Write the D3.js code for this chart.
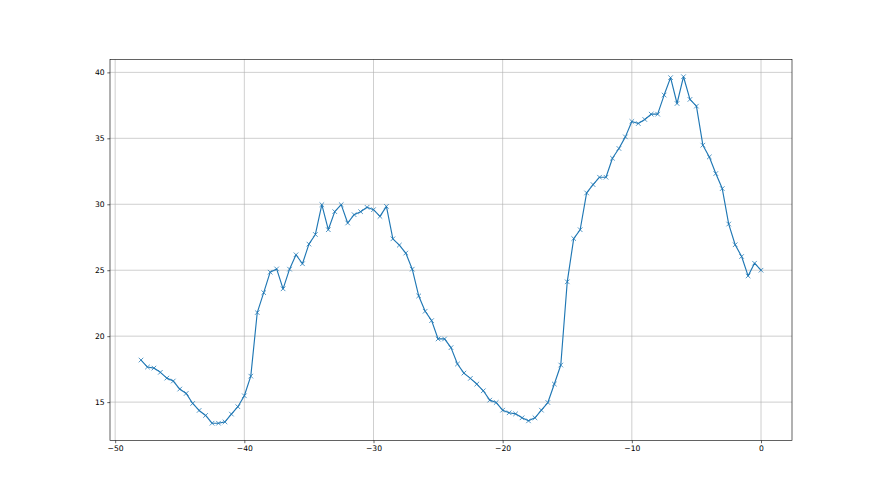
<!DOCTYPE html>
<html><head><meta charset="utf-8">
<script src="https://cdn.jsdelivr.net/npm/d3@7"></script>
<style>body{margin:0;background:#fff}svg{display:block}</style>
</head><body>
<svg id="c" width="880" height="495"></svg>
<script>
const xValues = [-48,-47.5,-47,-46.5,-46,-45.5,-45,-44.5,-44,-43.5,-43,-42.5,-42,-41.5,-41,-40.5,-40,-39.5,-39,-38.5,
  -38,-37.5,-37,-36.5,-36,-35.5,-35,-34.5,-34,-33.5,-33,-32.5,-32,-31.5,-31,-30.5,-30,-29.5,-29,-28.5,
  -28,-27.5,-27,-26.5,-26,-25.5,-25,-24.5,-24,-23.5,-23,-22.5,-22,-21.5,-21,-20.5,-20,-19.5,-19,-18.5,
  -18,-17.5,-17,-16.5,-16,-15.5,-15,-14.5,-14,-13.5,-13,-12.5,-12,-11.5,-11,-10.5,-10,-9.5,-9,-8.5,
  -8,-7.5,-7,-6.5,-6,-5.5,-5,-4.5,-4,-3.5,-3,-2.5,-2,-1.5,-1,-0.5,0];
const yValues = [18.19,17.66,17.58,17.26,16.82,16.6,15.99,15.66,14.9,14.37,13.99,13.4,13.4,13.5,14.09,14.65,15.48,16.97,21.79,23.3,
  24.85,25.1,23.59,25.08,26.17,25.49,26.98,27.71,29.97,28.07,29.44,29.97,28.58,29.21,29.44,29.77,29.59,29.08,29.84,27.38,
  26.9,26.3,25.08,23.05,21.89,21.18,19.79,19.79,19.13,17.89,17.2,16.8,16.37,15.86,15.15,14.97,14.39,14.19,14.11,13.81,
  13.58,13.81,14.39,14.97,16.37,17.81,24.12,27.4,28.07,30.86,31.49,32.05,32.05,33.49,34.23,35.11,36.28,36.12,36.43,36.83,
  36.83,38.28,39.6,37.64,39.67,37.95,37.44,34.48,33.59,32.33,31.19,28.5,26.93,26.04,24.57,25.53,25.0];
const xTicks = [-50,-40,-30,-20,-10,0];
const yTicks = [15,20,25,30,35,40];

const W = 880, H = 495;
const mLeft = 0.125*W, mRight = 0.9*W, mTop = H*(1-0.88), mBottom = H*(1-0.11);
const px = 55/72; // pt -> px
const color = "#1f77b4";

const xmin = d3.min(xValues), xmax = d3.max(xValues);
const ymin = d3.min(yValues), ymax = d3.max(yValues);
const xm = (xmax-xmin)*0.05, ym = (ymax-ymin)*0.05;
const x = d3.scaleLinear().domain([xmin-xm, xmax+xm]).range([mLeft, mRight]);
const y = d3.scaleLinear().domain([ymin-ym, ymax+ym]).range([mBottom, mTop]);

const svg = d3.select("#c");
const fmt = d => (d<0 ? "\u2212" + Math.abs(d) : String(d));

// grid
const g = svg.append("g");
g.selectAll("line.gx").data(xTicks).join("line")
  .attr("x1", d=>x(d)).attr("x2", d=>x(d)).attr("y1", mTop).attr("y2", mBottom)
  .attr("stroke", "#b0b0b0").attr("stroke-width", 0.8*px);
g.selectAll("line.gy").data(yTicks).join("line")
  .attr("x1", mLeft).attr("x2", mRight).attr("y1", d=>y(d)).attr("y2", d=>y(d))
  .attr("stroke", "#b0b0b0").attr("stroke-width", 0.8*px);

// line
const pts = xValues.map((v,i)=>[v, yValues[i]]);
svg.append("path").datum(pts)
  .attr("d", d3.line().x(d=>x(d[0])).y(d=>y(d[1])))
  .attr("fill", "none").attr("stroke", color).attr("stroke-width", 1.5*px)
  .attr("stroke-linejoin", "round").attr("stroke-linecap", "square");

// markers 'x'
const ms = 6*px/2;
svg.append("g").selectAll("path").data(pts).join("path")
  .attr("d", d => {
    const cx = x(d[0]), cy = y(d[1]);
    return `M${cx-ms},${cy-ms}L${cx+ms},${cy+ms}M${cx-ms},${cy+ms}L${cx+ms},${cy-ms}`;
  })
  .attr("stroke", color).attr("stroke-width", 1*px).attr("fill", "none");

// axes
const xAxis = d3.axisBottom(x).tickValues(xTicks).tickFormat(fmt).tickSize(3.5*px).tickPadding(3.5*px);
const yAxis = d3.axisLeft(y).tickValues(yTicks).tickFormat(fmt).tickSize(3.5*px).tickPadding(3.5*px);
const gx = svg.append("g").attr("transform", `translate(0,${mBottom})`).call(xAxis);
const gy = svg.append("g").attr("transform", `translate(${mLeft},0)`).call(yAxis);
[gx, gy].forEach(a => {
  a.select(".domain").remove();
  a.selectAll("line").attr("stroke", "#000").attr("stroke-width", 0.8*px);
  a.selectAll("text").attr("fill", "#000").style("font-family", "DejaVu Sans").style("font-size", (10*px)+"px");
});

// spines
svg.append("rect").attr("x", mLeft).attr("y", mTop).attr("width", mRight-mLeft).attr("height", mBottom-mTop)
  .attr("fill", "none").attr("stroke", "#000").attr("stroke-width", 0.8*px);
</script>
</body></html>
